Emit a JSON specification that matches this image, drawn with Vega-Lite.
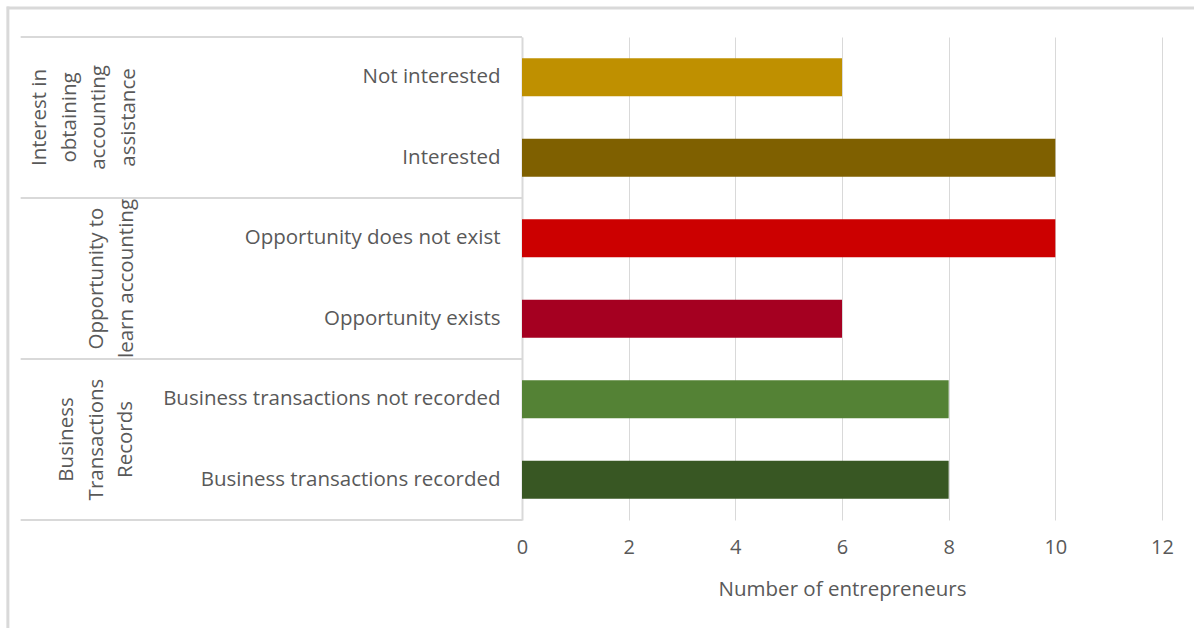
{
  "$schema": "https://vega.github.io/schema/vega-lite/v6.json",
  "width": 640,
  "height": 483,
  "autosize": {"type": "none"},
  "padding": {"left": 522, "top": 37, "right": 32, "bottom": 108},
  "background": "white",
  "config": {
    "font": "Open Sans",
    "view": {"stroke": null}
  },
  "datasets": {
    "bars": [
      {"category": "Not interested", "count": 6},
      {"category": "Interested", "count": 10},
      {"category": "Opportunity does not exist", "count": 10},
      {"category": "Opportunity exists", "count": 6},
      {"category": "Business transactions not recorded", "count": 8},
      {"category": "Business transactions recorded", "count": 8}
    ],
    "sepTop": [
      {"category": "Not interested"},
      {"category": "Opportunity does not exist"},
      {"category": "Business transactions not recorded"}
    ],
    "sepBottom": [
      {"category": "Business transactions recorded"}
    ],
    "frame": [
      {"top": "Not interested", "bottom": "Business transactions recorded"}
    ],
    "g1": [{"group": "Interest in\nobtaining\naccounting\nassistance", "anchor": "Interested"}],
    "g2": [{"group": "Opportunity to\nlearn accounting", "anchor": "Opportunity exists"}],
    "g3": [{"group": "Business\nTransactions\nRecords", "anchor": "Business transactions recorded"}]
  },
  "layer": [
    {
      "data": {"name": "bars"},
      "mark": {"type": "bar", "height": {"band": 0.47}},
      "encoding": {
        "y": {
          "field": "category",
          "type": "nominal",
          "scale": {
            "domain": ["Not interested", "Interested", "Opportunity does not exist", "Opportunity exists", "Business transactions not recorded", "Business transactions recorded"],
            "paddingInner": 0,
            "paddingOuter": 0
          },
          "axis": {
            "title": null,
            "labelFontSize": 20.5,
            "labelColor": "#595959",
            "labelPadding": 22,
            "labelLimit": 400,
            "ticks": false,
            "domain": true,
            "domainColor": "#d9d9d9",
            "domainWidth": 2,
            "grid": false
          }
        },
        "x": {
          "field": "count",
          "type": "quantitative",
          "scale": {"domain": [0, 12], "nice": false},
          "axis": {
            "values": [0, 2, 4, 6, 8, 10, 12],
            "grid": true,
            "gridColor": "#d9d9d9",
            "domain": false,
            "ticks": false,
            "tickSize": 0,
            "labelFlush": false,
            "labelFontSize": 20,
            "labelColor": "#595959",
            "labelPadding": 17,
            "title": "Number of entrepreneurs",
            "titleFontSize": 20.5,
            "titleFontWeight": "normal",
            "titleColor": "#595959",
            "titlePadding": 22
          }
        },
        "color": {
          "field": "category",
          "type": "nominal",
          "scale": {
            "domain": ["Not interested", "Interested", "Opportunity does not exist", "Opportunity exists", "Business transactions not recorded", "Business transactions recorded"],
            "range": ["#BF9000", "#7F6000", "#CC0000", "#A50021", "#548235", "#385723"]
          },
          "legend": null
        }
      }
    },
    {
      "data": {"name": "sepTop"},
      "mark": {"type": "rule", "color": "#d9d9d9", "strokeWidth": 2},
      "encoding": {
        "y": {"field": "category", "type": "nominal", "bandPosition": 0},
        "x": {"datum": -9.4},
        "x2": {"datum": 0}
      }
    },
    {
      "data": {"name": "sepBottom"},
      "mark": {"type": "rule", "color": "#d9d9d9", "strokeWidth": 2},
      "encoding": {
        "y": {"field": "category", "type": "nominal", "bandPosition": 1},
        "x": {"datum": -9.4},
        "x2": {"datum": 0}
      }
    },
    {
      "data": {"name": "frame"},
      "mark": {"type": "rule", "color": "#d9d9d9", "strokeWidth": 3},
      "encoding": {
        "y": {"field": "top", "type": "nominal", "bandPosition": -0.36},
        "x": {"datum": -9.66},
        "x2": {"datum": 12.7}
      }
    },
    {
      "data": {"name": "frame"},
      "mark": {"type": "rule", "color": "#d9d9d9", "strokeWidth": 3},
      "encoding": {
        "y": {"field": "top", "type": "nominal", "bandPosition": -0.38},
        "y2": {"field": "bottom", "bandPosition": 2.4},
        "x": {"datum": -9.64}
      }
    },
    {
      "data": {"name": "g1"},
      "mark": {"type": "text", "angle": 270, "align": "center", "baseline": "bottom", "lineBreak": "\n", "lineHeight": 29.5, "fontSize": 20.5, "color": "#595959"},
      "encoding": {
        "y": {"field": "anchor", "type": "nominal", "bandPosition": 0},
        "x": {"datum": -8.85},
        "text": {"field": "group"}
      }
    },
    {
      "data": {"name": "g2"},
      "mark": {"type": "text", "angle": 270, "align": "center", "baseline": "bottom", "lineBreak": "\n", "lineHeight": 29.5, "fontSize": 20.5, "color": "#595959"},
      "encoding": {
        "y": {"field": "anchor", "type": "nominal", "bandPosition": 0},
        "x": {"datum": -7.78},
        "text": {"field": "group"}
      }
    },
    {
      "data": {"name": "g3"},
      "mark": {"type": "text", "angle": 270, "align": "center", "baseline": "bottom", "lineBreak": "\n", "lineHeight": 29.5, "fontSize": 20.5, "color": "#595959"},
      "encoding": {
        "y": {"field": "anchor", "type": "nominal", "bandPosition": 0},
        "x": {"datum": -8.34},
        "text": {"field": "group"}
      }
    }
  ]
}
